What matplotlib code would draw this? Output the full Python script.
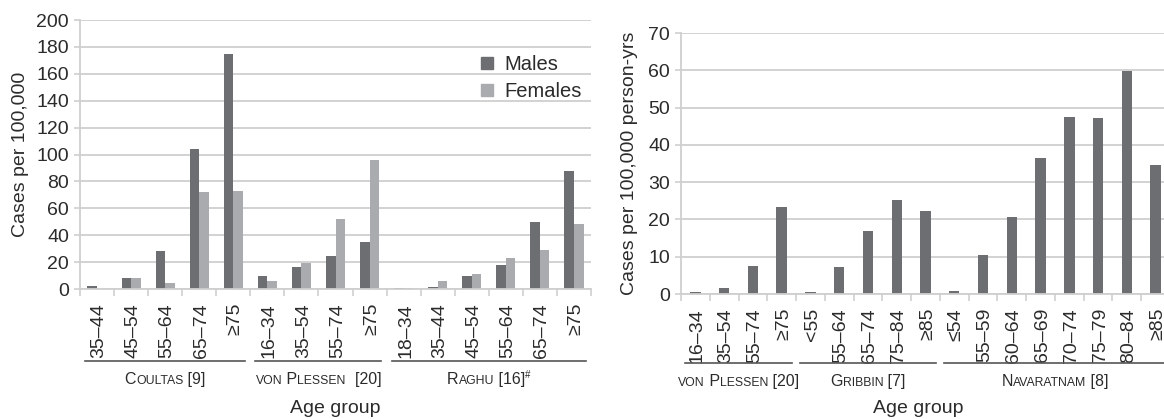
import matplotlib
matplotlib.use("Agg")
import matplotlib.pyplot as plt
import matplotlib.transforms as mtransforms
from matplotlib.patches import Patch
import numpy as np

plt.rcParams['font.family'] = ['Liberation Sans', 'DejaVu Sans']

# ---- data: left panel (by sex) ----
left_labels = ['35–44', '45–54', '55–64', '65–74', '≥75',
               '16–34', '35–54', '55–74', '≥75',
               '18–34', '35–44', '45–54', '55–64', '65–74', '≥75']
males = [2.5, 8.5, 28, 104, 175,
         10, 16, 24.5, 35,
         0.5, 1.5, 10, 18, 50, 88]
females = [0, 8, 4.5, 72, 73,
           6, 19, 52, 96,
           0.5, 6, 11, 23, 29, 48]
left_groups = [('Coultas [9]', 0, 5), ('von Plessen  [20]', 5, 9), ('Raghu [16]#', 9, 15)]

# ---- data: right panel (person-years) ----
right_labels = ['16–34', '35–54', '55–74', '≥75',
                '<55', '55–64', '65–74', '75–84', '≥85',
                '≤54', '55–59', '60–64', '65–69', '70–74', '75–79', '80–84', '≥85']
rates = [0.5, 1.5, 7.4, 23.2,
         0.5, 7.2, 17.0, 25.3, 22.3,
         0.9, 10.5, 20.6, 36.4, 47.5, 47.3, 59.8, 34.7]
right_groups = [('von Plessen [20]', 0, 4), ('Gribbin [7]', 4, 9), ('Navaratnam [8]', 9, 17)]

DARK = '#6d6e71'
LIGHT = '#a9abae'
GRID = '#cfcfcf'
TXT = '#2b2b2b'
W, H = 1164, 419

fig = plt.figure(figsize=(W / 100, H / 100), dpi=100)


def px_axes(x0, x1, ytop, ybot):
    return fig.add_axes([x0 / W, 1 - ybot / H, (x1 - x0) / W, (ybot - ytop) / H])


def style(ax, n, ymax, step, labels):
    ax.set_xlim(0, n)
    ax.set_ylim(0, ymax)
    ax.set_yticks(np.arange(0, ymax + 1, step))
    ax.yaxis.grid(True, color=GRID, lw=1.3)
    ax.set_axisbelow(True)
    for s in ('top', 'right'):
        ax.spines[s].set_visible(False)
    for s in ('left', 'bottom'):
        ax.spines[s].set_color(GRID)
        ax.spines[s].set_linewidth(1.3)
    ax.set_xticks(np.arange(n + 1))
    ax.set_xticklabels([])
    ax.set_xticks(np.arange(n) + 0.5, minor=True)
    ax.set_xticklabels(labels, minor=True, rotation=90, fontsize=14, color=TXT,
                       rotation_mode='anchor', ha='right', va='center_baseline')
    ax.tick_params(axis='x', which='major', length=5, color=GRID, width=1.2)
    ax.tick_params(axis='x', which='minor', length=0, pad=10)
    ax.tick_params(axis='y', length=4, color=GRID, width=1.2, labelsize=14,
                   labelcolor=TXT, pad=4)


def smallcaps(ax, xc, ypix, text, big=11.5, small=8.8):
    # split into runs: capitals/digits big, lowercase as small capitals
    runs = []
    for ch in text:
        if ch == '#':
            kind = 'sup'
        elif ch.islower():
            kind = 'small'
        else:
            kind = 'big'
        if runs and runs[-1][1] == kind:
            runs[-1][0] += ch
        else:
            runs.append([ch, kind])
    r = fig.canvas.get_renderer()
    xdisp = ax.transData.transform((xc, 0))[0]
    ydisp = (H - ypix)
    items = []
    for s, kind in runs:
        size = {'big': big, 'small': small, 'sup': 7}[kind]
        t = fig.text(0, 0, s.upper(), fontsize=size, color=TXT, ha='left',
                     va='baseline', transform=None)
        items.append((t, kind))
    widths = [t.get_window_extent(r).width for t, _ in items]
    x = xdisp - sum(widths) / 2
    for (t, kind), w in zip(items, widths):
        yy = ydisp + (6 if kind == 'sup' else 0)
        t.set_position((x, yy))
        x += w


def groups(ax, groups, yline, ytext):
    tr = mtransforms.blended_transform_factory(ax.transData, fig.transFigure)
    for name, a, b in groups:
        ax.plot([a + 0.15, b - 0.15], [1 - yline / H] * 2, color='#555555', lw=1.2,
                transform=tr, clip_on=False)
        smallcaps(ax, (a + b) / 2, ytext, name)


# ---- left panel ----
ax1 = px_axes(80, 591, 20, 289)
xl = np.arange(len(left_labels)) + 0.5
bw = 0.28
ax1.bar(xl - bw / 2, males, bw, color=DARK, label='Males')
ax1.bar(xl + bw / 2, females, bw, color=LIGHT, label='Females')
style(ax1, len(left_labels), 200, 20, left_labels)
ax1.set_ylabel('Cases per 100,000', fontsize=14, color=TXT, labelpad=5)
handles = [Patch(color=DARK, label='Males'), Patch(color=LIGHT, label='Females')]
ax1.legend(handles=handles, loc='upper left', bbox_to_anchor=(463 / W, 1 - 37 / H),
           bbox_transform=fig.transFigure, frameon=False, fontsize=14.5,
           handlelength=0.6, handleheight=0.6, handletextpad=0.55, labelspacing=0.4,
           labelcolor=TXT)

# ---- right panel ----
ax2 = px_axes(681, 1170, 33, 294)
xr = np.arange(len(right_labels)) + 0.5
ax2.bar(xr, rates, 0.36, color=DARK)
style(ax2, len(right_labels), 70, 10, right_labels)
ax2.set_ylabel('Cases per 100,000 person-yrs', fontsize=14, color=TXT, labelpad=7)

fig.canvas.draw()
groups(ax1, left_groups, 361, 384)
groups(ax2, right_groups, 363, 386)
fig.text((80 + 591) / 2 / W, 1 - 408 / H, 'Age group', fontsize=14, color=TXT,
         ha='center', va='center')
fig.text(918 / W, 1 - 408 / H, 'Age group', fontsize=14, color=TXT,
         ha='center', va='center')

fig.savefig('out.png', dpi=100)
